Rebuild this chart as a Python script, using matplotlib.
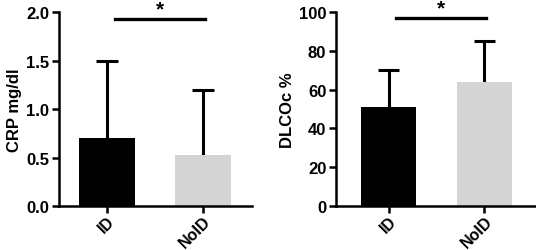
import numpy as np
import matplotlib.pyplot as plt

plt.rcParams['font.family'] = ['Liberation Sans', 'DejaVu Sans']
plt.rcParams['font.weight'] = 'bold'

# data
groups = ['ID', 'NoID']
crp_mean = [0.70, 0.53]
crp_sd = [0.80, 0.67]
dlco_mean = [51, 64]
dlco_sd = [19, 21]
colors = ['#000000', '#d4d4d4']

fig = plt.figure(figsize=(5.36, 2.51), dpi=100)
ax1 = fig.add_axes([0.110, 0.175, 0.360, 0.773])
ax2 = fig.add_axes([0.627, 0.175, 0.371, 0.773])


def panel(ax, means, sds, ylim, yticks, ylabel, sig_y, xlim, ticklabels):
    x = np.arange(len(groups))
    tops = np.array(means) + np.array(sds)
    # only upper error bars, drawn behind the bars
    ax.vlines(x, means, tops, color='black', lw=2.2, zorder=1)
    ax.hlines(tops, x - 0.11, x + 0.11, color='black', lw=2.2, zorder=1)
    ax.bar(x, means, width=0.58, color=colors, zorder=2)
    ax.set_ylim(*ylim)
    ax.set_xlim(*xlim)
    ax.set_yticks(yticks)
    ax.set_yticklabels(ticklabels, fontsize=12, fontweight='bold')
    ax.set_xticks(x)
    ax.set_xticklabels(groups, rotation=45, ha='right', rotation_mode='anchor',
                       fontsize=11.5, fontweight='bold')
    ax.set_ylabel(ylabel, fontsize=12, fontweight='bold', labelpad=3)
    for s in ['top', 'right']:
        ax.spines[s].set_visible(False)
    for s in ['left', 'bottom']:
        ax.spines[s].set_linewidth(1.8)
    ax.tick_params(width=1.8, length=5, pad=2)
    ax.tick_params(axis='x', pad=0)
    # significance bar
    ax.plot([0.08, 1.02], [sig_y, sig_y], color='black', lw=2.4, clip_on=False)
    ax.text(0.55, sig_y, '*', ha='center', va='bottom', fontsize=15,
            fontweight='bold')


panel(ax1, crp_mean, crp_sd, (0, 2.0), [0, 0.5, 1.0, 1.5, 2.0], 'CRP mg/dl',
      1.93, (-0.5, 1.51), ['0.0', '0.5', '1.0', '1.5', '2.0'])
panel(ax2, dlco_mean, dlco_sd, (0, 100), [0, 20, 40, 60, 80, 100], 'DLCOc %',
      97, (-0.547, 1.526), ['0', '20', '40', '60', '80', '100'])

fig.savefig('out.png', dpi=100)
